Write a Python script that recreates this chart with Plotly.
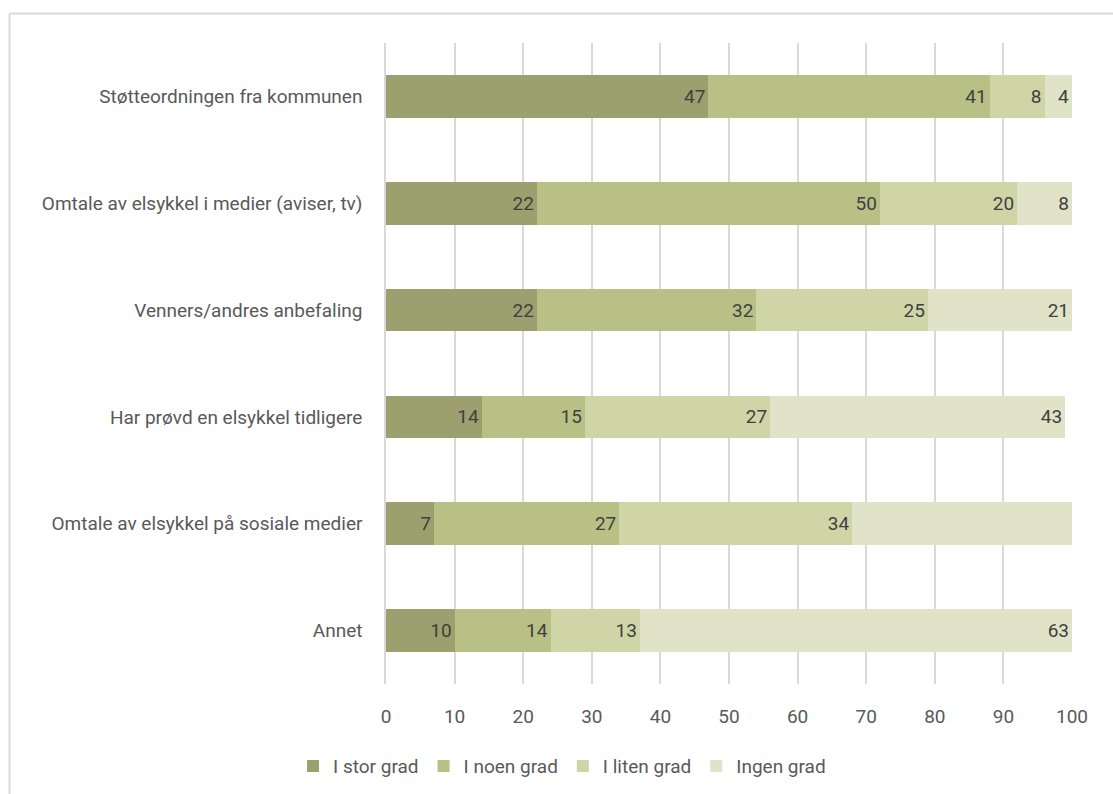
import plotly.graph_objects as go

# Survey: how much each factor influenced the decision to buy an e-bike (%)
categories = [
    "Støtteordningen fra kommunen",
    "Omtale av elsykkel i medier (aviser, tv)",
    "Venners/andres anbefaling",
    "Har prøvd en elsykkel tidligere",
    "Omtale av elsykkel på sosiale medier",
    "Annet",
]
series_names = ["I stor grad", "I noen grad", "I liten grad", "Ingen grad"]
stor_grad = [47, 22, 22, 14, 7, 10]
noen_grad = [41, 50, 32, 15, 27, 14]
liten_grad = [8, 20, 25, 27, 34, 13]
ingen_grad = [4, 8, 21, 43, 32, 63]
# the last segment of "sosiale medier" carries no value label
ingen_grad_labels = ["4", "8", "21", "43", "", "63"]

colors = ["#9BA06E", "#B8C086", "#D0D5A8", "#E0E3C8"]
font_family = "Roboto, Liberation Sans, sans-serif"

values = [stor_grad, noen_grad, liten_grad, ingen_grad]
labels = [
    [str(v) for v in stor_grad],
    [str(v) for v in noen_grad],
    [str(v) for v in liten_grad],
    ingen_grad_labels,
]

fig = go.Figure()
for name, vals, txt, col in zip(series_names, values, labels, colors):
    fig.add_trace(go.Bar(
        y=categories,
        x=vals,
        name=name,
        orientation="h",
        marker=dict(color=col, line=dict(width=0)),
        text=txt,
        textposition="inside",
        insidetextanchor="end",
        textangle=0,
        textfont=dict(family=font_family, size=19, color="#404040"),
        constraintext="none",
        cliponaxis=False,
    ))

fig.update_layout(
    barmode="stack",
    bargap=0.6,
    width=1113,
    height=794,
    margin=dict(l=386, r=41, t=43, b=110),
    paper_bgcolor="white",
    plot_bgcolor="white",
    font=dict(family=font_family, size=19, color="#595959"),
    showlegend=True,
    legend=dict(
        orientation="h",
        xref="container",
        x=0.505,
        xanchor="center",
        yref="container",
        y=0.035,
        yanchor="middle",
        font=dict(family=font_family, size=19, color="#595959"),
        itemwidth=30,
        traceorder="normal",
    ),
    xaxis=dict(
        range=[0, 100],
        dtick=10,
        showgrid=True,
        gridcolor="#D9D9D9",
        gridwidth=1.5,
        zeroline=False,
        showline=False,
        ticks="",
        tickfont=dict(family=font_family, size=19, color="#595959"),
        ticklabelstandoff=19,
    ),
    yaxis=dict(
        categoryorder="array",
        categoryarray=categories[::-1],
        showgrid=False,
        showline=True,
        linecolor="#D9D9D9",
        linewidth=1.5,
        ticks="",
        ticklabelstandoff=18,
        tickfont=dict(family=font_family, size=19, color="#595959"),
    ),
    shapes=[
        # outer chart frame (left and top edges visible)
        dict(type="line", xref="paper", yref="paper",
             x0=(9.5 - 386) / 686, x1=1.2, y0=(684 - 13.5) / 641, y1=(684 - 13.5) / 641,
             line=dict(color="#D9D9D9", width=2)),
        dict(type="line", xref="paper", yref="paper",
             x0=(9.5 - 386) / 686, x1=(9.5 - 386) / 686, y0=(684 - 13.5) / 641, y1=-0.3,
             line=dict(color="#D9D9D9", width=2)),
    ],
)

fig.write_html("out.html")
